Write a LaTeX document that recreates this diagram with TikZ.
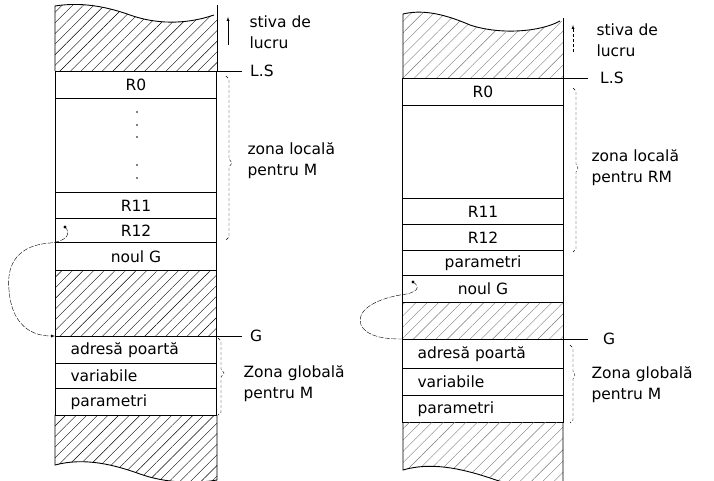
\documentclass[tikz,border=0pt]{standalone}
\usepackage{fontspec}
\setmainfont{DejaVu Sans}
\usetikzlibrary{patterns.meta}
\definecolor{hatchgray}{RGB}{120,120,120}

\begin{document}
\begin{tikzpicture}[x=1pt, y=-1pt, >=latex, font=\fontsize{15.5}{21}\selectfont,
    cell/.style={draw, line width=0.9pt, minimum width=161pt, minimum height=#1, inner sep=0pt, anchor=north},
    cellleft/.style={cell=#1, align=left, text width=131pt},
    hatch/.style={pattern={Lines[angle=45, distance=7.5pt, line width=0.4pt]}},
    hatchlight/.style={pattern={Lines[angle=45, distance=8pt, line width=0.4pt]}, pattern color=hatchgray},
    tag/.style={anchor=west, inner ysep=0pt, inner xsep=#1},
    zone/.style={anchor=west, align=left},
    bracket/.style={thin, densely dashed},
    link/.style={thin, dash pattern=on 5pt off 1.5pt}]
  \useasboundingbox (0,0) rectangle (714,481);

  % ---------- stiva din stanga ----------
  % zona hasurata de sus
  \path[hatch] (55,71) -- (55,6) .. controls (80,2) and (105,6) .. (130,15) .. controls (155,24) and (185,25) .. (214,15) -- (217,15) -- (217,71) -- cycle;
  \draw[line width=0.9pt] (55,71) -- (55,6) .. controls (80,2) and (105,6) .. (130,15) .. controls (155,24) and (185,25) .. (214,15);
  \draw[line width=0.9pt] (217,5) -- (217,71);
  % registre
  \node[cell=27pt] (r0L) at (136,71) {R0};
  \node[cell=94pt] (midL) at (136,98) {};
  \node[cell=26pt] (r11L) at (136,192) {R11};
  \node[cell=24pt] (r12L) at (136,218) {R12};
  \node[cell=28pt] (noulL) at (136,242) {noul G};
  \node[cell=66pt, hatch] (hatL) at (136,270) {};
  \node[cellleft=27pt] (adrL) at (136,336) {adresă poartă};
  \node[cellleft=25pt] (varL) at (136,363) {variabile};
  \node[cellleft=27pt] (parL) at (136,388) {parametri};
  \foreach \y in {112,125,137,165,178} \fill (137,\y) circle (0.9);
  % zona hasurata de jos
  \path[hatch] (55,415) -- (55,465) .. controls (85,457) and (115,465) .. (140,474) .. controls (165,483) and (195,484) .. (217,480) -- (217,415) -- cycle;
  \draw[line width=0.9pt] (55,415) -- (55,465) .. controls (85,457) and (115,465) .. (140,474) .. controls (165,483) and (195,484) .. (217,480) -- (217,415);
  % LS si G
  \node[tag=8pt] (lsL) at (242,71) {L.S};
  \draw (r0L.north west) -- (lsL.west);
  \node[tag=8pt] (gL) at (242,336) {G};
  \draw (adrL.north west) -- (gL.west);
  % stiva de lucru
  \coordinate (upL0) at (228,45);
  \coordinate (upL1) at (228,17);
  \draw[->] (upL0) -- (upL1);
  \node[zone] (stivaL) at (246,32) {stiva de\\lucru};
  % acolade
  \draw[bracket] (226,76) -- (229,79) -- (229,159) -- (232,163) -- (229,167) -- (229,237) -- (226,240);
  \node[zone] (locL) at (244,161) {zona locală\\pentru M};
  \draw[bracket] (218,338) -- (221,341) -- (221,369) -- (224,373) -- (221,377) -- (221,412) -- (218,415);
  \node[zone] (globL) at (240,384) {Zona globală\\pentru M};
  % legatura catre G
  \coordinate (srcL) at (65,227);
  \fill (srcL) circle (1.6);
  \draw[link,->] (srcL) .. controls (71,233) and (68,241) .. (50,243) .. controls (20,245) and (6,262) .. (9,290) .. controls (11,318) and (25,336) .. (adrL.north west);

  % ---------- stiva din dreapta ----------
  \path[hatchlight] (403,78) -- (403,14) .. controls (420,10) and (440,12) .. (470,25) .. controls (500,35) and (540,32) .. (560,21) -- (563,21) -- (563,78) -- cycle;
  \draw[line width=0.9pt] (403,78) -- (403,14) .. controls (420,10) and (440,12) .. (470,25) .. controls (500,35) and (540,32) .. (560,21);
  \draw[line width=0.9pt] (563,18) -- (563,78);
  \node[cell=27pt] (r0R) at (483,78) {R0};
  \node[cell=93pt] (midR) at (483,105) {};
  \node[cell=26pt] (r11R) at (483,198) {R11};
  \node[cell=26pt] (r12R) at (483,224) {R12};
  \node[cell=25pt] (parR) at (483,250) {parametri};
  \node[cell=27pt] (noulR) at (483,275) {noul G};
  \node[cell=37pt, hatchlight] (hatR) at (483,302) {};
  \node[cellleft=29pt] (adrR) at (483,339) {adresă poartă};
  \node[cellleft=27pt] (varR) at (483,368) {variabile};
  \node[cellleft=27pt] (par2R) at (483,395) {parametri};
  \path[hatchlight] (403,422) -- (403,470) .. controls (430,462) and (460,468) .. (490,478) .. controls (515,487) and (540,488) .. (563,487) -- (563,422) -- cycle;
  \draw[line width=0.9pt] (403,422) -- (403,470) .. controls (430,462) and (460,468) .. (490,478) .. controls (515,487) and (540,488) .. (563,487) -- (563,422);
  \node[tag=12pt] (lsR) at (588,78) {L.S};
  \draw (r0R.north west) -- (lsR.west);
  \node[tag=15pt] (gR) at (588,339) {G};
  \draw (adrR.north west) -- (gR.west);
  \coordinate (upR0) at (573,52);
  \coordinate (upR1) at (573,25);
  \draw[->, densely dashed] (upR0) -- (upR1);
  \node[zone] (stivaR) at (593,40) {stiva de\\lucru};
  \draw[bracket] (573,88) -- (576,91) -- (576,164) -- (578,168) -- (576,172) -- (576,249) -- (573,252);
  \node[zone] (locR) at (588,168) {zona locală\\pentru RM};
  \draw[bracket] (570,345) -- (573,348) -- (573,371) -- (575,375) -- (573,379) -- (573,420) -- (570,423);
  \node[zone] (globR) at (588,385) {Zona globală\\pentru M};
  \coordinate (srcR) at (413,282);
  \fill (srcR) circle (1.6);
  \draw[link] (srcR) .. controls (421,287) and (418,293) .. (400,295) .. controls (372,300) and (356,312) .. (361,325) .. controls (367,337) and (385,339) .. (adrR.north west);
\end{tikzpicture}
\end{document}
